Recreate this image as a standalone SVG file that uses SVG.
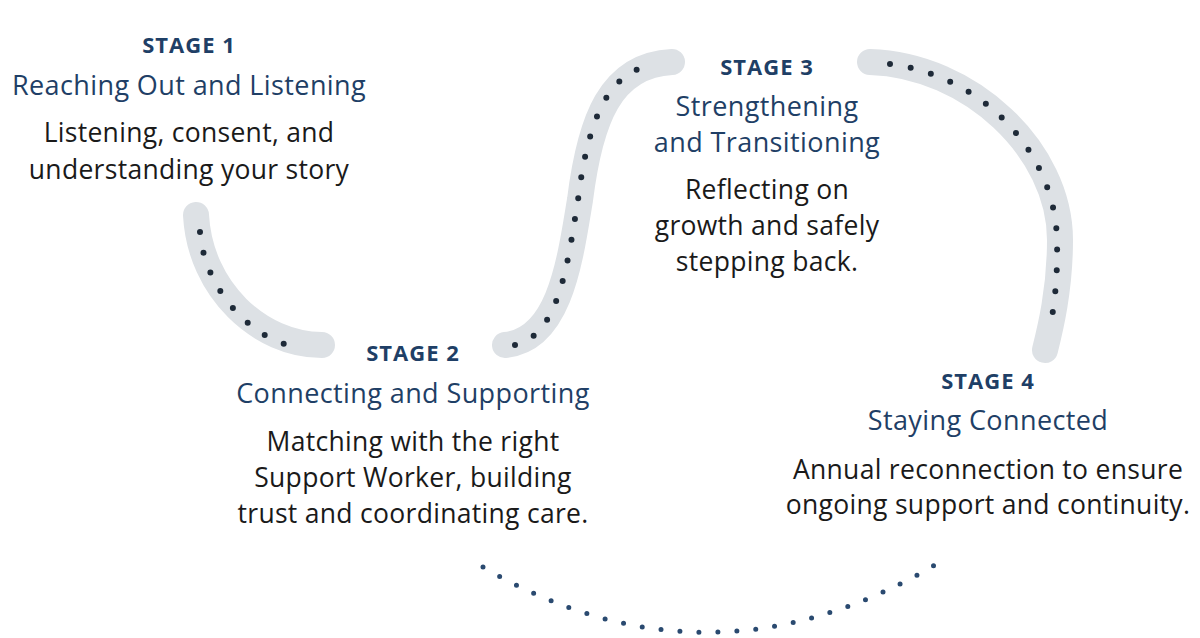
<svg xmlns="http://www.w3.org/2000/svg" width="1200" height="638" viewBox="0 0 1200 638">
<style>
.track{fill:none;stroke:#dde1e5;stroke-width:26;stroke-linecap:round}
.dots{fill:none;stroke:#1e2a38;stroke-width:6;stroke-linecap:round;stroke-dasharray:0 21}
.arc{fill:none;stroke:#2a4a70;stroke-width:5;stroke-linecap:round;stroke-dasharray:0 19}
text{font-family:"Open Sans","Liberation Sans",sans-serif;text-anchor:middle}
.st{font-weight:bold;font-size:22px;letter-spacing:1px;fill:#1f3f66}
.ti{font-size:27px;font-weight:500;letter-spacing:0.4px;fill:#1f3f66}
.bd{font-size:26.5px;letter-spacing:0.3px;fill:#1a1a1a}
</style>
<rect width="1200" height="638" fill="#fff"/>
<g id="connectors">
<path class="track" d="M196,215 C200,290 260,345 322,345"/>
<path class="dots" d="M200,232 C205,295 260,345 300,347"/>
<path class="track" d="M505,345 C560,340 570,260 580,200 C590,120 610,65 672,62"/>
<path class="dots" d="M515,345 C560,335 568,260 578,200 C588,120 608,70 655,65"/>
<path class="track" d="M870,62 C970,65 1060,150 1060,240 C1060,290 1050,330 1045,350"/>
<path class="dots" d="M890,64 C980,75 1055,150 1057,240 C1058,285 1053,310 1050,330"/>
<path class="arc" d="M483,567 Q710,700 940,562"/>
</g>
<g id="stage1">
<text class="st" x="189" y="53">STAGE 1</text>
<text class="ti" x="189" y="95">Reaching Out and Listening</text>
<text class="bd" x="189" y="142">Listening, consent, and</text>
<text class="bd" x="189" y="179">understanding your story</text>
</g>
<g id="stage2">
<text class="st" x="413" y="361">STAGE 2</text>
<text class="ti" x="413" y="403">Connecting and Supporting</text>
<text class="bd" x="413" y="451">Matching with the right</text>
<text class="bd" x="413" y="487">Support Worker, building</text>
<text class="bd" x="413" y="523">trust and coordinating care.</text>
</g>
<g id="stage3">
<text class="st" x="767" y="75">STAGE 3</text>
<text class="ti" x="767" y="116">Strengthening</text>
<text class="ti" x="767" y="152">and Transitioning</text>
<text class="bd" x="767" y="199">Reflecting on</text>
<text class="bd" x="767" y="235">growth and safely</text>
<text class="bd" x="767" y="271">stepping back.</text>
</g>
<g id="stage4">
<text class="st" x="988" y="389">STAGE 4</text>
<text class="ti" x="988" y="430">Staying Connected</text>
<text class="bd" x="988" y="479">Annual reconnection to ensure</text>
<text class="bd" x="988" y="514">ongoing support and continuity.</text>
</g>
</svg>
